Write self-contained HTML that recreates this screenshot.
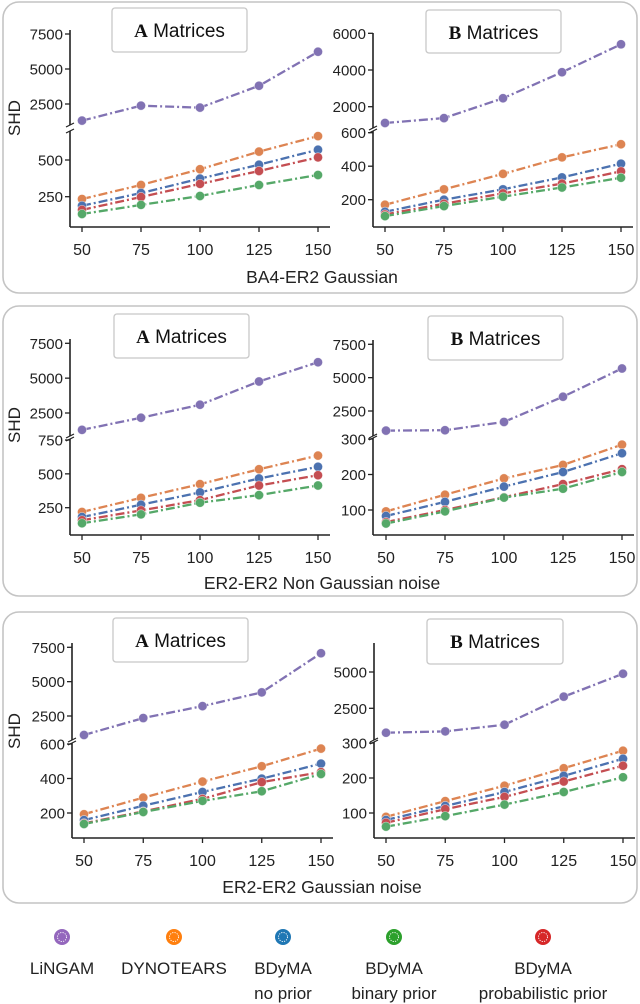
<!DOCTYPE html>
<html><head><meta charset="utf-8">
<style>
html,body{margin:0;padding:0;background:#fff;}
svg{display:block;font-family:"Liberation Sans","DejaVu Sans",sans-serif;}
</style></head>
<body>
<svg id="chart" width="640" height="1004" viewBox="0 0 640 1004" xmlns="http://www.w3.org/2000/svg">
<g id="frames"></g>
<g id="plots"></g>
<g id="legend"></g>
</svg>
<script>
// ---------- data ----------
const xCats = [50, 75, 100, 125, 150];
const seriesNames = ["LiNGAM", "DYNOTEARS", "BDyMA no prior", "BDyMA binary prior", "BDyMA probabilistic prior"];
// Panel 1 (BA4-ER2 Gaussian) A
const p1aLingam = [1310, 2380, 2240, 3800, 6230];
const p1aDyno   = [234, 330, 437, 557, 663];
const p1aNo     = [188, 275, 373, 468, 570];
const p1aBin    = [132, 194, 255, 330, 398];
const p1aProb   = [160, 248, 337, 425, 518];
// Panel 1 B
const p1bLingam = [1110, 1380, 2460, 3880, 5400];
const p1bDyno   = [170, 262, 354, 453, 531];
const p1bNo     = [128, 200, 262, 333, 415];
const p1bBin    = [102, 162, 218, 273, 331];
const p1bProb   = [112, 176, 238, 296, 369];
// Panel 2 (ER2-ER2 Non Gaussian noise) A
const p2aLingam = [1290, 2160, 3090, 4760, 6140];
const p2aDyno   = [218, 323, 424, 534, 635];
const p2aNo     = [181, 272, 363, 466, 552];
const p2aBin    = [135, 201, 287, 343, 414];
const p2aProb   = [157, 230, 306, 414, 490];
// Panel 2 B
const p2bLingam = [1030, 1060, 1680, 3570, 5690];
const p2bDyno   = [96, 143, 189, 227, 284];
const p2bNo     = [83, 123, 166, 207, 260];
const p2bBin    = [62, 96, 135, 160, 207];
const p2bProb   = [66, 100, 136, 173, 215];
// Panel 3 (ER2-ER2 Gaussian noise) A
const p3aLingam = [1120, 2350, 3220, 4220, 7070];
const p3aDyno   = [193, 289, 382, 471, 573];
const p3aNo     = [159, 242, 322, 399, 486];
const p3aBin    = [136, 206, 270, 326, 426];
const p3aProb   = [140, 209, 282, 379, 437];
// Panel 3 B
const p3bLingam = [820, 910, 1370, 3300, 4880];
const p3bDyno   = [89, 134, 178, 228, 278];
const p3bNo     = [80, 120, 160, 206, 255];
const p3bBin    = [61, 91, 124, 160, 202];
const p3bProb   = [72, 111, 146, 190, 235];
// tick labels
const ticksUpA = [2500, 5000, 7500];
const ticksUp1B = [2000, 4000, 6000];
const ticksUp3B = [2500, 5000];
const ticksLo1A = [250, 500];
const ticksLo1B = [200, 400, 600];
const ticksLo2A = [250, 500, 750];
const ticksLoB = [100, 200, 300];
const ticksLo3A = [200, 400, 600];
const panelTitles = ["BA4-ER2 Gaussian", "ER2-ER2 Non Gaussian noise", "ER2-ER2 Gaussian noise"];

// ---------- layout ----------
const lineColors = ["#8172b3", "#dd8452", "#4c72b0", "#55a868", "#c44e52"];
const legendColors = ["#9467bd", "#ff7f0e", "#1f77b4", "#2ca02c", "#d62728"];
const NS = "http://www.w3.org/2000/svg";
function mk(tag, attrs, parent) {
  const e = document.createElementNS(NS, tag);
  for (const k in attrs) e.setAttribute(k, attrs[k]);
  parent.appendChild(e);
  return e;
}
const plots = document.getElementById("plots");
const frames = document.getElementById("frames");
const legendG = document.getElementById("legend");

const subplots = [
  {id:"p1a", title:"A", data:[p1aLingam,p1aDyno,p1aNo,p1aBin,p1aProb], xpx:[82,318], ax:70, bottom:227,
   up:{ticks:ticksUpA, ref:[2500,104,7500,34], spine:[30,125]}, lo:{ticks:ticksLo1A, ref:[250,196.7,500,160], spine:[131,227]},
   box:[112,8,135,44]},
  {id:"p1b", title:"B", data:[p1bLingam,p1bDyno,p1bNo,p1bBin,p1bProb], xpx:[385,621], ax:373, bottom:227,
   up:{ticks:ticksUp1B, ref:[2000,106.7,6000,33.3], spine:[33,128]}, lo:{ticks:ticksLo1B, ref:[200,199.7,600,132.7], spine:[131,227]},
   box:[426,10,135,43]},
  {id:"p2a", title:"A", data:[p2aLingam,p2aDyno,p2aNo,p2aBin,p2aProb], xpx:[82,318], ax:70, bottom:535,
   up:{ticks:ticksUpA, ref:[2500,413,7500,343.3], spine:[339,436]}, lo:{ticks:ticksLo2A, ref:[250,507.7,750,440], spine:[439,535]},
   box:[114,314,135,44]},
  {id:"p2b", title:"B", data:[p2bLingam,p2bDyno,p2bNo,p2bBin,p2bProb], xpx:[386,622], ax:373, bottom:535,
   up:{ticks:ticksUpA, ref:[2500,411,7500,344.3], spine:[340,436]}, lo:{ticks:ticksLoB, ref:[100,510,300,439], spine:[438,535]},
   box:[428,316,135,44]},
  {id:"p3a", title:"A", data:[p3aLingam,p3aDyno,p3aNo,p3aBin,p3aProb], xpx:[84,321], ax:72, bottom:838,
   up:{ticks:ticksUpA, ref:[2500,716,7500,647.3], spine:[643,740]}, lo:{ticks:ticksLo3A, ref:[200,813,600,744], spine:[743,838]},
   box:[113,618,135,44]},
  {id:"p3b", title:"B", data:[p3bLingam,p3bDyno,p3bNo,p3bBin,p3bProb], xpx:[386,623], ax:374, bottom:838,
   up:{ticks:ticksUp3B, ref:[2500,708.3,5000,672], spine:[643,740]}, lo:{ticks:ticksLoB, ref:[100,813,300,743], spine:[742,838]},
   box:[427,619,136,45]}
];

// panel frames
const frameRects = [[3,2,634,291],[3,306,634,290],[3,612,634,291]];
const xlabelY = [283, 589, 893];
const shdY = [118, 425, 731];
frameRects.forEach((r,i)=>{
  const f = mk("rect",{x:r[0],y:r[1],width:r[2],height:r[3],rx:16,fill:"#fff",stroke:"#c4c4c4","stroke-width":1.6},frames);
  
  
  const xl = mk("text",{x:322,y:xlabelY[i],"text-anchor":"middle","font-size":17.5,fill:"#222"},frames);
  xl.textContent = panelTitles[i];
  
  
  const sl = mk("text",{x:0,y:0,"text-anchor":"middle","font-size":17,fill:"#222",transform:"translate(20,"+shdY[i]+") rotate(-90)"},frames);
  sl.textContent = "SHD";
  
  
});

function scaleFrom(ref){ return v => ref[1] + (v-ref[0])*(ref[3]-ref[1])/(ref[2]-ref[0]); }

subplots.forEach(sp=>{
  const g = mk("g",{},plots);
  
  
  const xs = v => sp.xpx[0] + (v - xCats[0])*(sp.xpx[1]-sp.xpx[0])/(xCats[xCats.length-1]-xCats[0]);
  const yu = scaleFrom(sp.up.ref), yl = scaleFrom(sp.lo.ref);
  const ax = sp.ax;
  const s1 = mk("line",{x1:ax,y1:sp.up.spine[0],x2:ax,y2:sp.up.spine[1],stroke:"#222","stroke-width":1.6},g);
  
  
  const s2 = mk("line",{x1:ax,y1:sp.lo.spine[0],x2:ax,y2:sp.bottom,stroke:"#222","stroke-width":1.6},g);
  
  
  const s3 = mk("line",{x1:ax,y1:sp.bottom,x2:sp.xpx[1]+12,y2:sp.bottom,stroke:"#222","stroke-width":1.6},g);
  
  
  [sp.up.spine[1], sp.lo.spine[0]].forEach(y=>{
    const b = mk("line",{x1:ax-4,y1:y+2,x2:ax+4,y2:y-2,stroke:"#222","stroke-width":1.2},g);
    
    
  });
  [[sp.up.ticks,yu],[sp.lo.ticks,yl]].forEach(([ticks,sc])=>{
    ticks.forEach(t=>{
      const y = sc(t);
      const tm = mk("line",{x1:ax-5,y1:y,x2:ax,y2:y,stroke:"#222","stroke-width":1.3},g);
      
      
      const tl = mk("text",{x:ax-7,y:y+5.5,"text-anchor":"end","font-size":15,fill:"#222"},g);
      tl.textContent = t;
      
      
    });
  });
  xCats.forEach(c=>{
    const x = xs(c);
    const tm = mk("line",{x1:x,y1:sp.bottom,x2:x,y2:sp.bottom+5,stroke:"#222","stroke-width":1.3},g);
    
    
    const tl = mk("text",{x:x,y:sp.bottom+28,"text-anchor":"middle","font-size":16,fill:"#222"},g);
    tl.textContent = c;
    
    
  });
  const order = [0,1,2,4,3];
  order.forEach(si=>{
    const vals = sp.data[si];
    const sc = si===0 ? yu : yl;
    const pts = vals.map((v,i)=>xs(xCats[i])+","+sc(v)).join(" ");
    const pl = mk("polyline",{points:pts,fill:"none",stroke:lineColors[si],"stroke-width":2.3,"stroke-dasharray":"9,3,2,3"},g);
    
    
    vals.forEach((v,i)=>{
      const c = mk("circle",{cx:xs(xCats[i]),cy:sc(v),r:4.6,fill:lineColors[si],stroke:"#fff","stroke-width":0.7,"stroke-opacity":0.6},g);
      
      
    });
  });
  const b = sp.box;
  const br = mk("rect",{x:b[0],y:b[1],width:b[2],height:b[3],rx:3,fill:"#fff",stroke:"#c8c8c8","stroke-width":1.3},g);
  
  
  const tt = mk("text",{x:b[0]+b[2]/2,y:b[1]+29,"text-anchor":"middle","font-size":19,fill:"#111"},g);
  
  
  const t1 = mk("tspan",{"font-family":"Liberation Serif, serif","font-weight":"bold"},tt);
  t1.textContent = sp.title;
  const t2 = mk("tspan",{},tt);
  t2.textContent = " Matrices";
});

// legend
const legX = [62, 174, 283, 394, 543];
const legL1 = ["LiNGAM","DYNOTEARS","BDyMA","BDyMA","BDyMA"];
const legL2 = ["","","no prior","binary prior","probabilistic prior"];
legX.forEach((x,i)=>{
  const g = mk("g",{},legendG);
  
  
  mk("circle",{cx:x,cy:937,r:8,fill:legendColors[i]},g);
  mk("circle",{cx:x,cy:937,r:4.5,fill:"none",stroke:"#fff","stroke-width":0.9,"stroke-dasharray":"1.2,1.2"},g);
  const t = mk("text",{x:x,y:974,"text-anchor":"middle","font-size":17,fill:"#222"},g);
  t.textContent = legL1[i];
  if (legL2[i]) {
    const t2 = mk("text",{x:x,y:999,"text-anchor":"middle","font-size":17,fill:"#222"},g);
    t2.textContent = legL2[i];
  }
});
</script>
</body></html>
